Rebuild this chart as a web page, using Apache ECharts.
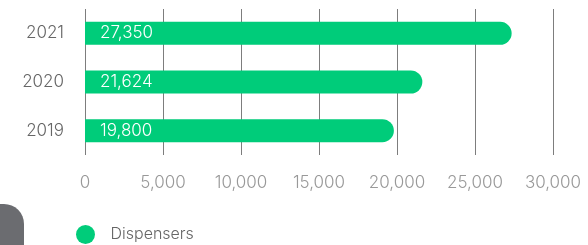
<!DOCTYPE html>
<html>
<head>
<meta charset="utf-8">
<script src="https://cdn.jsdelivr.net/npm/echarts@6/dist/echarts.min.js"></script>
<style>
  html, body { margin: 0; padding: 0; background: #fff; }
  #main { width: 588px; height: 245px; }
</style>
</head>
<body>
<div id="main"></div>
<script>
// data
const years = ['2019', '2020', '2021'];
const dispensers = [19800, 21624, 27350];
const seriesName = 'Dispensers';

const green = '#00cc7a';
const font = 'Inter';
const numSize = 17;

var myChart = echarts.init(document.getElementById('main'));
myChart.setOption({
  animation: false,
  textStyle: { fontFamily: font },
  grid: { left: 85, right: 35, top: 9, bottom: 90 },
  legend: {
    data: [seriesName],
    left: 76,
    top: 225,
    padding: 0,
    icon: 'circle',
    itemWidth: 20,
    itemHeight: 19,
    textStyle: { fontFamily: font, fontSize: 16, fontWeight: 300, color: '#666', padding: [0, 0, 0, 10] }
  },
  xAxis: {
    type: 'value',
    min: 0,
    max: 30000,
    interval: 5000,
    axisLine: { show: false },
    axisTick: { show: false },
    axisLabel: { fontFamily: font, fontSize: numSize, fontWeight: 300, color: '#999', margin: 19 },
    splitLine: { show: true, lineStyle: { color: '#7d7d7d', width: 1 } }
  },
  yAxis: {
    type: 'category',
    data: years,
    axisLine: { show: false },
    axisTick: { show: false },
    axisLabel: { fontFamily: font, fontSize: numSize, fontWeight: 300, color: '#666', margin: 21 }
  },
  // 左下角的灰色装饰
  graphic: [{
    type: 'rect',
    shape: { x: -40, y: 204, width: 64, height: 80, r: 20 },
    style: { fill: '#6b6c70' }
  }],
  series: [{
    name: seriesName,
    type: 'bar',
    data: dispensers,
    barWidth: 23,
    itemStyle: { color: green, borderRadius: [0, 12, 12, 0] },
    label: {
      show: true,
      position: 'insideLeft',
      distance: 15,
      color: '#fff',
      fontFamily: font,
      fontSize: numSize,
      fontWeight: 300,
      formatter: (p) => p.value.toLocaleString('en-US')
    }
  }]
});
</script>
</body>
</html>
